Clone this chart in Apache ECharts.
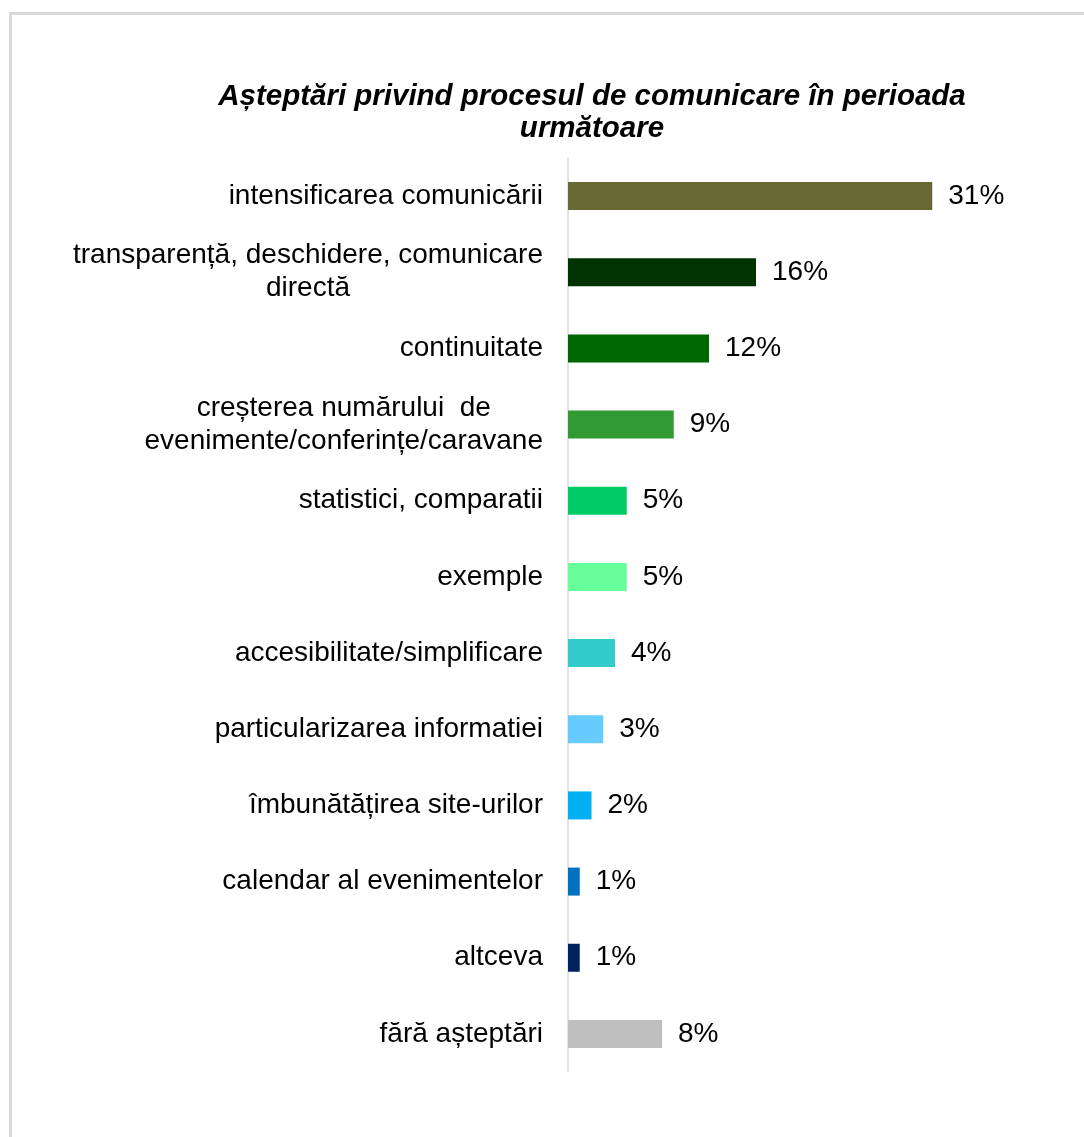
<!DOCTYPE html>
<html><head><meta charset="utf-8">
<script src="https://cdn.jsdelivr.net/npm/echarts@6/dist/echarts.min.js"></script>
<style>html,body{margin:0;padding:0;background:#fff}#c{width:1084px;height:1137px}</style>
</head><body><div id="c"></div>
<script>
const titleText = 'Așteptări privind procesul de comunicare în perioada\nurmătoare';
const categories = [
  'intensificarea comunicării',
  'transparență, deschidere, comunicare\ndirectă',
  'continuitate',
  'creșterea numărului  de\nevenimente/conferințe/caravane',
  'statistici, comparatii',
  'exemple',
  'accesibilitate/simplificare',
  'particularizarea informatiei',
  'îmbunătățirea site-urilor',
  'calendar al evenimentelor',
  'altceva',
  'fără așteptări'
];
const values = [31, 16, 12, 9, 5, 5, 4, 3, 2, 1, 1, 8];
const colors = ['#686834', '#003300', '#006600', '#339933', '#00cc66', '#66ff99', '#33cccc', '#66ccff', '#00b0f0', '#0070c0', '#002060', '#bfbfbf'];

const chart = echarts.init(document.getElementById('c'));
chart.setOption({
  backgroundColor: '#fff',
  animation: false,
  graphic: [{
    type: 'rect', shape: {x: 10.5, y: 13.5, width: 1200, height: 1300},
    style: {fill: 'none', stroke: '#d9d9d9', lineWidth: 3}, silent: true
  }],
  title: {
    text: titleText, left: 587, top: 76, textAlign: 'center',
    textStyle: {fontFamily: 'Liberation Sans', fontStyle: 'italic', fontWeight: 'bold', fontSize: 29.5, lineHeight: 32, color: '#000'}
  },
  grid: {left: 568, top: 158, width: 470, height: 914, containLabel: false},
  xAxis: {type: 'value', min: 0, max: 40, show: false},
  yAxis: {
    type: 'category', data: categories, inverse: true,
    axisLine: {show: true, lineStyle: {color: '#d9d9d9', width: 1.5}},
    axisTick: {show: false},
    axisLabel: {
      margin: 25, align: 'right',
      formatter: v => v.split('\n').map(l => '{c|' + l + '}').join('\n'),
      rich: {c: {align: 'center', fontFamily: 'Liberation Sans', fontSize: 28, lineHeight: 33, color: '#000'}}
    }
  },
  series: [{
    type: 'bar', barWidth: 28,
    data: values.map((v, i) => ({value: v, itemStyle: {color: colors[i]}})),
    label: {show: true, position: 'right', distance: 16, formatter: '{c}%', fontFamily: 'Liberation Sans', fontSize: 28, color: '#000'}
  }]
});
</script></body></html>
